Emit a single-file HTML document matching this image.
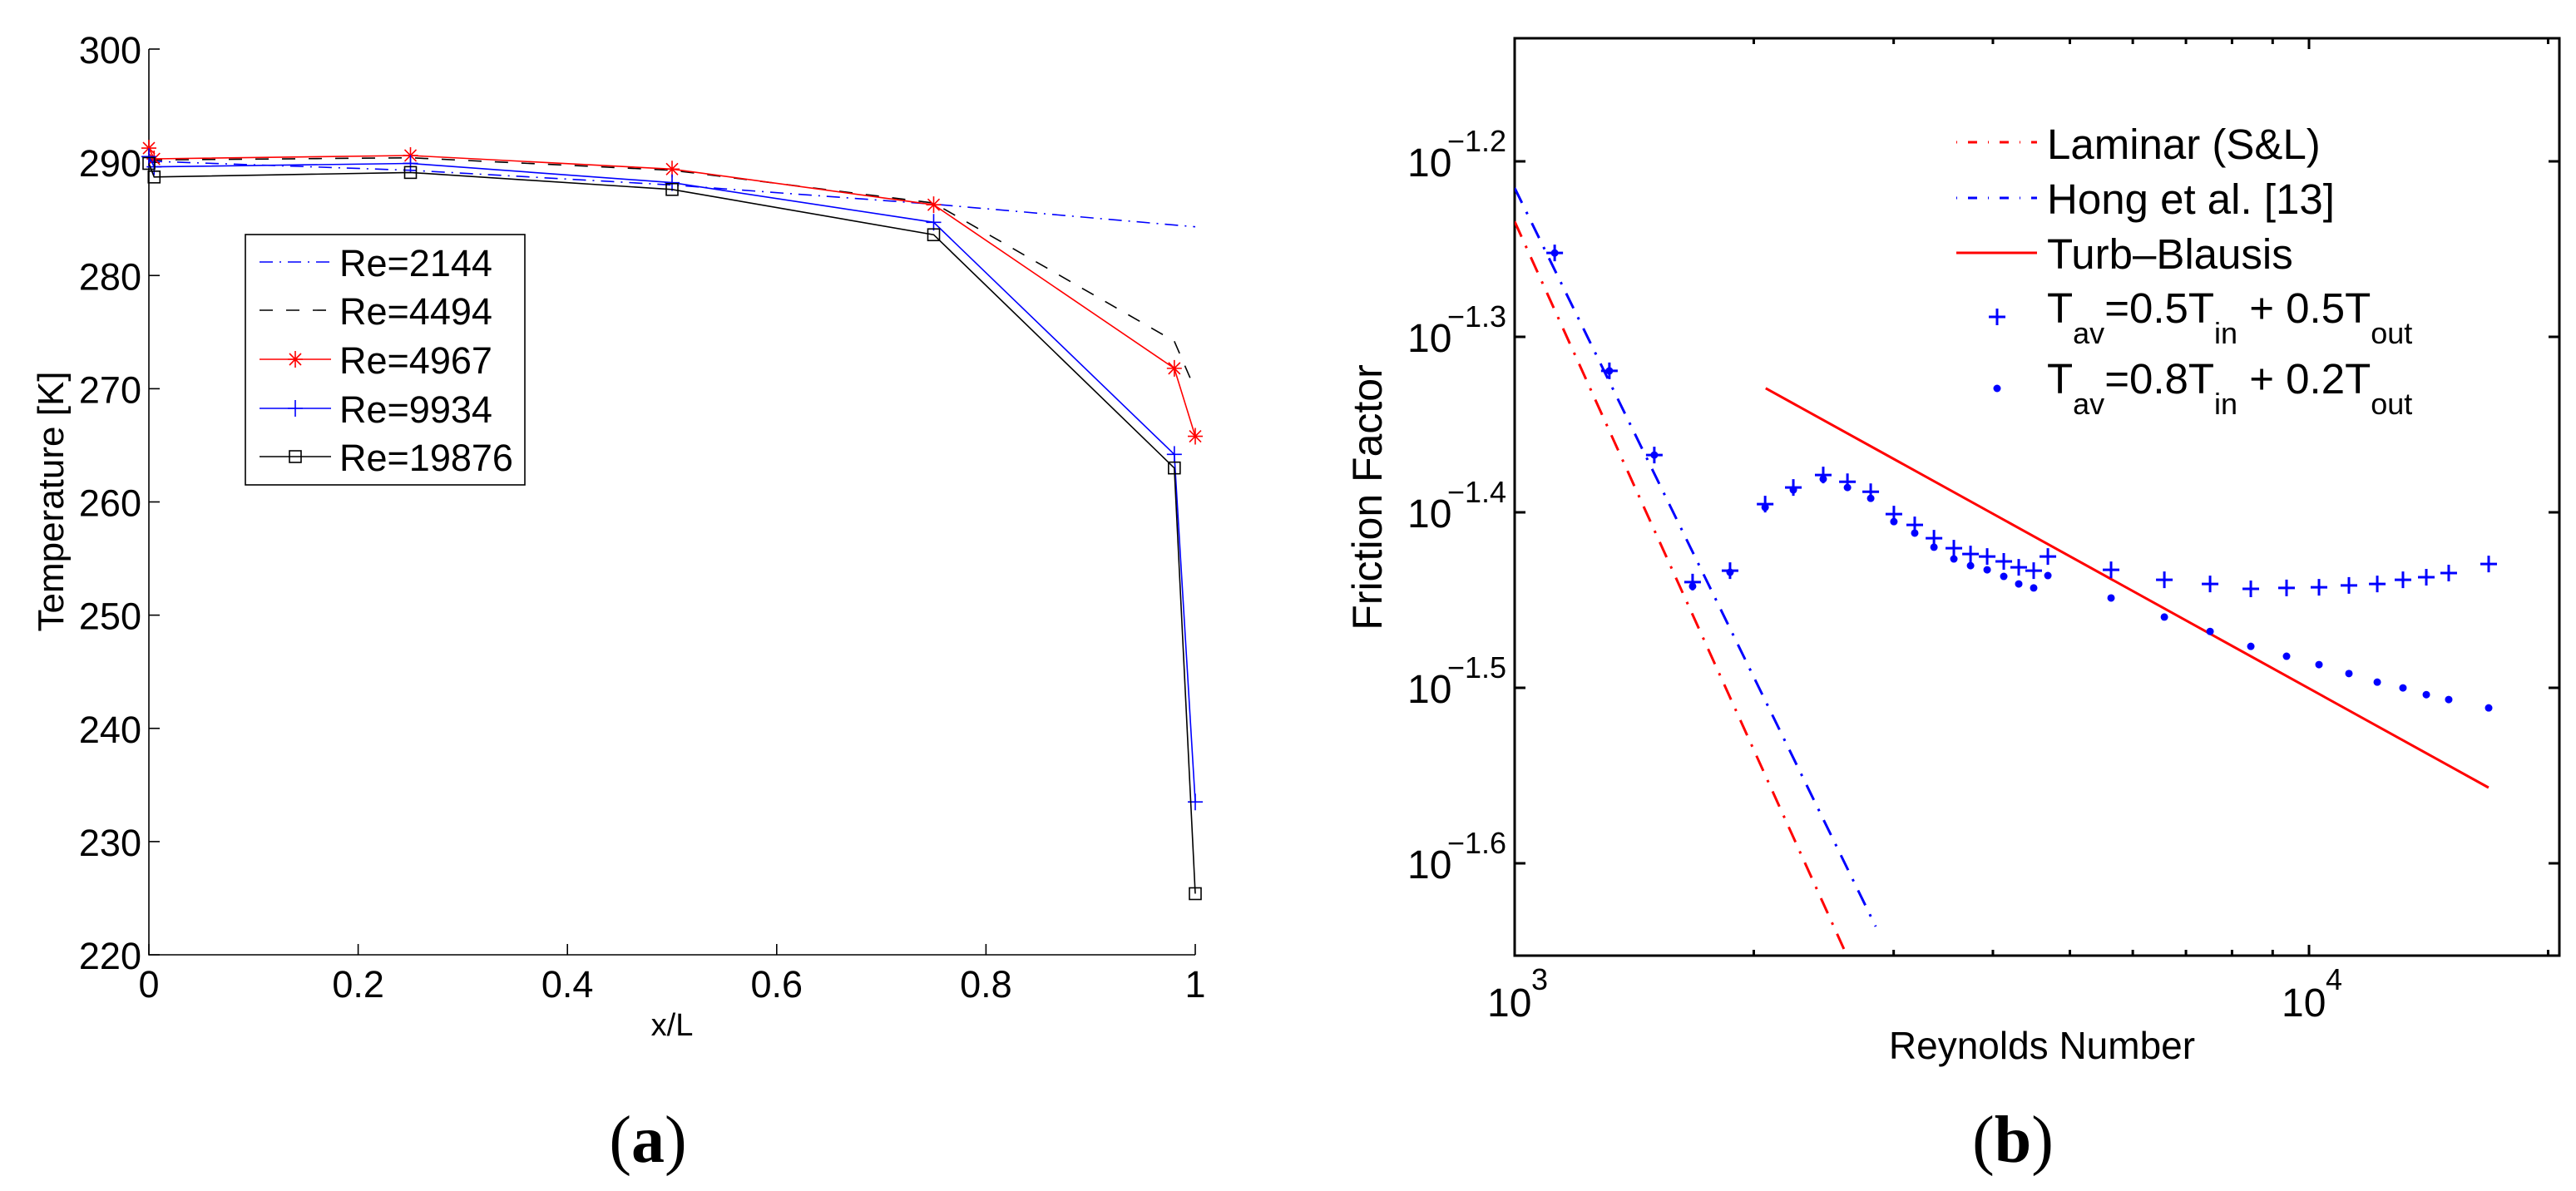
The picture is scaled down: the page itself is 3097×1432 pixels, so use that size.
<!DOCTYPE html>
<html><head><meta charset="utf-8"><style>
html,body{margin:0;padding:0;background:#fff;}
svg{display:block;font-family:"Liberation Sans",Arial,sans-serif;}
</style></head><body>
<svg id="fig" width="3097" height="1432" viewBox="0 0 3097 1432" xmlns="http://www.w3.org/2000/svg">
<g id="pa"></g>
<g id="pb"></g>
</svg>
<script>
// ---- Chart (a) data ----
const tempXTicks = [0, 0.2, 0.4, 0.6, 0.8, 1];
const tempXTickLabels = ["0", "0.2", "0.4", "0.6", "0.8", "1"];
const tempYTicks = [220, 230, 240, 250, 260, 270, 280, 290, 300];
const re2144X = [0, 0.25, 0.5, 0.75, 1];
const re2144Y = [290.1, 289.3, 288.0, 286.3, 284.3];
const re4494X = [0, 0.25, 0.5, 0.75, 0.98, 1];
const re4494Y = [290.2, 290.4, 289.3, 286.4, 274.2, 269.9];
const re4967X = [0, 0.005, 0.25, 0.5, 0.75, 0.98, 1];
const re4967Y = [291.25, 290.3, 290.6, 289.4, 286.25, 271.8, 265.8];
const re9934X = [0, 0.005, 0.25, 0.5, 0.75, 0.98, 1];
const re9934Y = [290.5, 289.6, 289.9, 288.2, 284.7, 264.2, 233.5];
const re19876X = [0, 0.005, 0.25, 0.5, 0.75, 0.98, 1];
const re19876Y = [289.9, 288.7, 289.1, 287.6, 283.6, 263.0, 225.4];
const tempLegendLabels = ["Re=2144", "Re=4494", "Re=4967", "Re=9934", "Re=19876"];

// ---- Chart (b) data ----
const reynoldsMajorTicks = [1000, 10000];
const reynoldsMajorExp = ["3", "4"];
const reynoldsMinorTicks = [2000, 3000, 4000, 5000, 6000, 7000, 8000, 9000, 20000];
const frictionTickExp = [-1.2, -1.3, -1.4, -1.5, -1.6];
const frictionTickLabels = ["\u22121.2", "\u22121.3", "\u22121.4", "\u22121.5", "\u22121.6"];
const laminarRe = [1000, 2620];
const laminarF = [0.0583, 0.02225];
const hongRe = [1000, 2848];
const hongF = [0.06093, 0.02312];
const blasiusRe = [2070, 16830];
const blasiusF = [0.04685, 0.02774];
const measRe = [1123, 1316, 1499, 1675, 1867, 2067, 2243, 2446, 2624, 2807, 3002, 3189, 3372, 3572, 3749, 3934, 4128, 4311, 4502, 4691, 5634, 6575, 7507, 8448, 9370, 10294, 11227, 12188, 13131, 14050, 14993, 16834];
const fAvg05 = [0.05595, 0.04793, 0.04292, 0.03633, 0.03688, 0.04024, 0.04113, 0.04181, 0.04144, 0.04090, 0.03972, 0.03916, 0.03848, 0.03798, 0.03769, 0.03757, 0.03733, 0.03704, 0.03688, 0.03757, 0.03692, 0.03644, 0.03624, 0.03601, 0.03605, 0.03608, 0.03617, 0.03624, 0.03644, 0.03656, 0.03676, 0.03720];
const fAvg08 = [0.05595, 0.04793, 0.04292, 0.03613, 0.03680, 0.04007, 0.04100, 0.04159, 0.04113, 0.04055, 0.03933, 0.03874, 0.03803, 0.03745, 0.03712, 0.03692, 0.03660, 0.03624, 0.03605, 0.03664, 0.03558, 0.03470, 0.03405, 0.03339, 0.03296, 0.03260, 0.03222, 0.03186, 0.03162, 0.03134, 0.03114, 0.03080];

const NS = "http://www.w3.org/2000/svg";
function mk(parent, tag, attrs, text) {
  const e = document.createElementNS(NS, tag);
  for (const k in attrs) e.setAttribute(k, attrs[k]);
  if (text !== undefined) e.textContent = text;
  parent.appendChild(e);
  return e;
}

// ================= Chart (a) =================
const pa = document.getElementById("pa");
const AX0 = 179, AX1 = 1437, AY0 = 1148, AY1 = 59;
const ax = v => AX0 + v * (AX1 - AX0);
const ay = v => AY0 - (v - 220) / 80 * (AY0 - AY1);

let el;
el = mk(pa, "path", {d: `M${AX0} ${AY1} L${AX0} ${AY0} L${AX1} ${AY0}`, fill: "none", stroke: "#000", "stroke-width": 1.6});


tempXTicks.forEach((t, i) => {
  const x = ax(t);
  el = mk(pa, "line", {x1: x, x2: x, y1: AY0, y2: AY0 - 13, stroke: "#000", "stroke-width": 1.6});
  
  
  el = mk(pa, "text", {x: x, y: 1199, "font-size": 45, "text-anchor": "middle"}, tempXTickLabels[i]);
  
  
});
tempYTicks.forEach(t => {
  const y = ay(t);
  el = mk(pa, "line", {x1: AX0, x2: AX0 + 13, y1: y, y2: y, stroke: "#000", "stroke-width": 1.6});
  
  
  el = mk(pa, "text", {x: 170, y: y + 17, "font-size": 45, "text-anchor": "end"}, String(t));
  
  
});
el = mk(pa, "text", {x: 808, y: 1245, "font-size": 38, "text-anchor": "middle"}, "x/L");


el = mk(pa, "text", {x: 0, y: 0, "font-size": 44, "text-anchor": "middle", transform: "translate(76,603) rotate(-90)"}, "Temperature [K]");


el = mk(pa, "text", {x: 779, y: 1397, "font-size": 80, "text-anchor": "middle", "font-family": "Liberation Serif, serif"}, "");


mk(el, "tspan", {}, "(");
mk(el, "tspan", {"font-weight": "bold"}, "a");
mk(el, "tspan", {}, ")");

function marker(g, type, x, y, color) {
  let m;
  if (type === "star") {
    m = mk(g, "path", {d: `M${x-9} ${y}H${x+9}M${x} ${y-10}V${y+10}M${x-7} ${y-7}L${x+7} ${y+7}M${x-7} ${y+7}L${x+7} ${y-7}`, stroke: color, "stroke-width": 1.6, fill: "none"});
  } else if (type === "plus") {
    m = mk(g, "path", {d: `M${x-9} ${y}H${x+9}M${x} ${y-10}V${y+10}`, stroke: color, "stroke-width": 1.6, fill: "none"});
  } else if (type === "square") {
    m = mk(g, "rect", {x: x - 7, y: y - 7, width: 14, height: 14, stroke: color, "stroke-width": 1.6, fill: "none"});
  }
  return m;
}

const tempSeries = [
  {name: "re-2144", xs: re2144X, ys: re2144Y, color: "#0000ff", dash: "16,8,2,8", mk: null},
  {name: "re-4494", xs: re4494X, ys: re4494Y, color: "#000000", dash: "16,16", mk: null},
  {name: "re-4967", xs: re4967X, ys: re4967Y, color: "#ff0000", dash: "", mk: "star"},
  {name: "re-9934", xs: re9934X, ys: re9934Y, color: "#0000ff", dash: "", mk: "plus"},
  {name: "re-19876", xs: re19876X, ys: re19876Y, color: "#000000", dash: "", mk: "square"}
];
tempSeries.forEach(s => {
  const g = mk(pa, "g", {});
  
  
  const d = s.xs.map((v, i) => (i ? "L" : "M") + ax(v).toFixed(1) + " " + ay(s.ys[i]).toFixed(1)).join("");
  el = mk(g, "path", {d: d, fill: "none", stroke: s.color, "stroke-width": 1.6, "stroke-dasharray": s.dash});
  
  
  if (s.mk) s.xs.forEach((v, i) => {
    const m = marker(g, s.mk, ax(v), ay(s.ys[i]), s.color);
    
    
  });
});

// legend (a)
const lg = mk(pa, "g", {});


el = mk(lg, "rect", {x: 295, y: 282, width: 336, height: 301, fill: "#fff", stroke: "#000", "stroke-width": 1.6});


const legRowsY = [315, 373, 432, 491, 549];
tempSeries.forEach((s, i) => {
  const y = legRowsY[i];
  el = mk(lg, "line", {x1: 312, x2: 398, y1: y, y2: y, stroke: s.color, "stroke-width": 1.6, "stroke-dasharray": s.dash});
  
  
  if (s.mk) {
    const m = marker(lg, s.mk, 355, y, s.color);
    
    
  }
  el = mk(lg, "text", {x: 408, y: y + 17, "font-size": 45}, tempLegendLabels[i]);
  
  
});

// ================= Chart (b) =================
const pb = document.getElementById("pb");
const BX0 = 1821, BX1 = 3077, BY0 = 1149, BY1 = 46;
const DEC = 955, YPD = 2110;
const bx = re => BX0 + (Math.log10(re) - 3) * DEC;
const byL = L => 194 + (-1.2 - L) * YPD;
const by = f => byL(Math.log10(f));

mk(pb, "defs", {}).innerHTML = `<clipPath id="clipb"><rect x="${BX0}" y="${BY1}" width="${BX1-BX0}" height="${BY0-BY1}"/></clipPath>`;

el = mk(pb, "rect", {x: BX0, y: BY1, width: BX1 - BX0, height: BY0 - BY1, fill: "none", stroke: "#000", "stroke-width": 3});


reynoldsMajorTicks.forEach((t, i) => {
  const x = bx(t);
  el = mk(pb, "path", {d: `M${x} ${BY0}V${BY0-13}M${x} ${BY1}V${BY1+13}`, stroke: "#000", "stroke-width": 3});
  
  
  el = mk(pb, "text", {x: x - 33, y: 1222, "font-size": 48}, "10");
  
  
  el = mk(pb, "text", {x: x + 20, y: 1190, "font-size": 36}, reynoldsMajorExp[i]);
  
  
});
reynoldsMinorTicks.forEach(t => {
  const x = bx(t);
  el = mk(pb, "path", {d: `M${x} ${BY0}V${BY0-7}M${x} ${BY1}V${BY1+7}`, stroke: "#000", "stroke-width": 3});
  
  
});
frictionTickExp.forEach((L, i) => {
  const y = byL(L);
  el = mk(pb, "path", {d: `M${BX0} ${y}H${BX0+13}M${BX1} ${y}H${BX1-13}`, stroke: "#000", "stroke-width": 3});
  
  
  el = mk(pb, "text", {x: 1692, y: y + 18, "font-size": 48}, "10");
  
  
  el = mk(pb, "text", {x: 1811, y: y - 12, "font-size": 36, "text-anchor": "end"}, frictionTickLabels[i]);
  
  
});
el = mk(pb, "text", {x: 2455, y: 1273, "font-size": 46, "text-anchor": "middle"}, "Reynolds Number");


el = mk(pb, "text", {x: 0, y: 0, "font-size": 50, "text-anchor": "middle", transform: "translate(1661,598) rotate(-90)"}, "Friction Factor");


el = mk(pb, "text", {x: 2420, y: 1397, "font-size": 80, "text-anchor": "middle", "font-family": "Liberation Serif, serif"}, "");


mk(el, "tspan", {}, "(");
mk(el, "tspan", {"font-weight": "bold"}, "b");
mk(el, "tspan", {}, ")");

const cg = mk(pb, "g", {"clip-path": "url(#clipb)"});


function bline(res, fs, color, dash) {
  const d = res.map((r, i) => (i ? "L" : "M") + bx(r).toFixed(1) + " " + by(fs[i]).toFixed(1)).join("");
  return mk(cg, "path", {d: d, fill: "none", stroke: color, "stroke-width": 3, "stroke-dasharray": dash});
}
el = bline(laminarRe, laminarF, "#ff0000", "20,12,3,12");


el = bline(hongRe, hongF, "#0000ff", "20,12,3,12");


el = bline(blasiusRe, blasiusF, "#ff0000", "");


measRe.forEach((r, i) => {
  const x = bx(r), y = by(fAvg05[i]);
  const p = mk(cg, "path", {d: `M${x-10} ${y}H${x+10}M${x} ${y-10}V${y+10}`, stroke: "#0000ff", "stroke-width": 3});
  
  
  const c = mk(cg, "circle", {cx: x, cy: by(fAvg08[i]), r: 4.5, fill: "#0000ff"});
  
  
});

// legend (b)
const lb = mk(pb, "g", {});


el = mk(lb, "line", {x1: 2352, x2: 2449, y1: 171, y2: 171, stroke: "#ff0000", "stroke-width": 3, "stroke-dasharray": "1,13,11,13"});


el = mk(lb, "text", {x: 2461, y: 191, "font-size": 51}, "Laminar (S&L)");


el = mk(lb, "line", {x1: 2352, x2: 2449, y1: 238, y2: 238, stroke: "#0000ff", "stroke-width": 3, "stroke-dasharray": "1,13,11,13"});


el = mk(lb, "text", {x: 2461, y: 257, "font-size": 51}, "Hong et al. [13]");


el = mk(lb, "line", {x1: 2352, x2: 2449, y1: 304, y2: 304, stroke: "#ff0000", "stroke-width": 3});


el = mk(lb, "text", {x: 2461, y: 323, "font-size": 51}, "Turb\u2013Blausis");


el = mk(lb, "path", {d: "M2391 381H2411M2401 371V391", stroke: "#0000ff", "stroke-width": 3});


el = mk(lb, "circle", {cx: 2401, cy: 467, r: 4.5, fill: "#0000ff"});


function tavLabel(y, a, b, name) {
  const t = mk(lb, "text", {x: 2461, y: y, "font-size": 51});
  
  
  t.innerHTML = `T<tspan font-size="36" dy="25">av</tspan><tspan dy="-25">=${a}T</tspan><tspan font-size="36" dy="25">in</tspan><tspan dy="-25"> + ${b}T</tspan><tspan font-size="36" dy="25">out</tspan>`;
}
tavLabel(388, "0.5", "0.5", "legend-entry-tav05");
tavLabel(473, "0.8", "0.2", "legend-entry-tav08");
</script>
</body></html>
